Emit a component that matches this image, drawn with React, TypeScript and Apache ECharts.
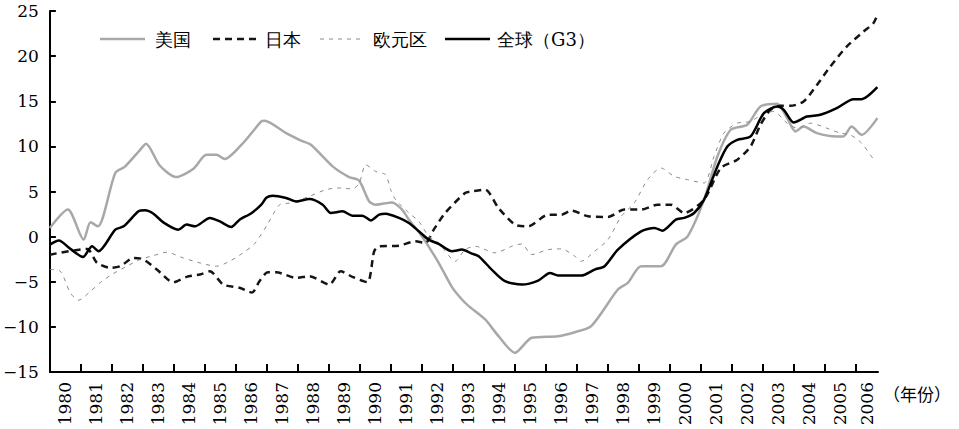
import React, { useEffect, useRef } from "react";
import * as echarts from "echarts";

const seriesNames = ["美国", "日本", "欧元区", "全球（G3）"];

const usT = [1980.0, 1980.58, 1981.09, 1981.31, 1981.55, 1982.11, 1982.43, 1982.91, 1983.1, 1983.55, 1984.07, 1984.62, 1985.05, 1985.37, 1985.64, 1986.23, 1986.82, 1986.92, 1987.62, 1988.1, 1988.42, 1989.12, 1989.65, 1989.97, 1990.3, 1990.51, 1991.04, 1991.36, 1991.58, 1992.0, 1992.54, 1992.97, 1993.29, 1993.51, 1994.04, 1994.47, 1995.0, 1995.54, 1996.39, 1996.93, 1997.46, 1998.32, 1998.64, 1999.07, 1999.71, 2000.19, 2000.57, 2001.1, 2001.53, 2001.96, 2002.49, 2002.92, 2003.46, 2003.78, 2004.05, 2004.31, 2004.74, 2005.38, 2005.59, 2005.86, 2006.18, 2006.69];
const usV = [0.96, 3.0, -0.33, 1.58, 1.14, 7.05, 7.78, 9.62, 10.29, 7.85, 6.6, 7.49, 9.07, 9.07, 8.6, 10.37, 12.76, 12.83, 11.47, 10.65, 10.18, 7.78, 6.6, 6.23, 3.9, 3.54, 3.79, 3.0, 1.88, 0.03, -2.9, -5.6, -6.97, -7.7, -9.18, -11.03, -12.87, -11.2, -11.03, -10.59, -9.92, -5.86, -5.12, -3.28, -3.28, -0.88, 0.03, 4.1, 8.88, 11.84, 12.39, 14.42, 14.72, 13.13, 11.65, 12.2, 11.47, 11.1, 11.1, 12.2, 11.28, 13.13];

const jpT = [1980.0, 1981.2, 1981.52, 1981.95, 1982.27, 1982.7, 1983.02, 1983.45, 1983.98, 1984.41, 1984.84, 1985.16, 1985.59, 1986.12, 1986.52, 1986.76, 1987.03, 1987.3, 1987.94, 1988.37, 1989.01, 1989.38, 1989.76, 1990.24, 1990.46, 1990.62, 1991.26, 1991.79, 1992.11, 1992.38, 1992.75, 1993.39, 1993.61, 1994.04, 1994.47, 1995.0, 1995.43, 1996.07, 1996.5, 1996.82, 1997.36, 1998.0, 1998.53, 1999.07, 1999.6, 2000.03, 2000.46, 2001.1, 2001.64, 2002.17, 2002.6, 2002.92, 2003.24, 2003.56, 2003.88, 2004.31, 2004.74, 2005.17, 2005.7, 2006.24, 2006.56, 2006.71];
const jpV = [-2.0, -1.36, -2.9, -3.46, -3.28, -2.36, -2.54, -3.65, -5.05, -4.46, -4.2, -3.84, -5.31, -5.67, -6.2, -4.94, -3.95, -3.95, -4.57, -4.39, -5.31, -3.84, -4.46, -5.05, -1.62, -1.07, -1.0, -0.52, -0.7, 0.77, 2.62, 4.83, 5.01, 5.2, 3.17, 1.33, 1.14, 2.43, 2.43, 2.88, 2.25, 2.18, 3.0, 3.0, 3.54, 3.54, 2.62, 4.1, 7.6, 8.52, 9.99, 12.39, 14.05, 14.49, 14.49, 14.97, 16.81, 18.84, 21.05, 22.71, 23.64, 24.75];

const euT = [1980.0, 1980.34, 1980.66, 1980.93, 1981.31, 1981.68, 1982.05, 1982.48, 1982.91, 1983.34, 1983.77, 1984.3, 1984.84, 1985.37, 1985.8, 1986.23, 1986.6, 1986.98, 1987.41, 1987.73, 1988.37, 1988.9, 1989.33, 1989.76, 1989.98, 1990.19, 1990.51, 1990.83, 1990.99, 1991.15, 1991.58, 1991.9, 1992.22, 1992.54, 1993.08, 1993.39, 1993.72, 1994.36, 1994.9, 1995.22, 1995.54, 1996.07, 1996.5, 1996.93, 1997.14, 1997.57, 1998.0, 1998.43, 1998.85, 1999.28, 1999.71, 2000.14, 2000.57, 2001.1, 2001.42, 2001.74, 2002.17, 2002.6, 2003.03, 2003.35, 2003.78, 2004.1, 2004.53, 2005.06, 2005.49, 2005.81, 2006.18, 2006.61];
const euV = [-3.65, -3.84, -6.23, -7.05, -6.05, -4.94, -4.09, -3.28, -2.54, -2.1, -1.73, -2.36, -2.91, -3.28, -2.73, -1.8, -0.8, 1.14, 3.54, 3.72, 4.46, 5.2, 5.39, 5.28, 5.94, 7.96, 7.22, 6.86, 5.2, 4.1, 2.62, 1.69, 0.03, -0.7, -2.73, -1.44, -1.07, -1.8, -1.07, -0.81, -1.99, -1.44, -1.36, -2.17, -2.73, -1.62, -0.33, 2.25, 3.73, 6.31, 7.6, 6.67, 6.31, 5.94, 8.88, 11.47, 12.57, 12.76, 13.68, 13.86, 12.57, 12.02, 12.57, 12.02, 11.47, 11.28, 10.37, 8.33];

const glT = [1980.0, 1980.29, 1980.66, 1981.07, 1981.36, 1981.57, 1982.11, 1982.38, 1982.86, 1983.07, 1983.34, 1983.66, 1984.14, 1984.41, 1984.68, 1985.16, 1985.48, 1985.85, 1986.12, 1986.5, 1986.82, 1986.98, 1987.19, 1987.62, 1987.94, 1988.37, 1988.8, 1989.06, 1989.44, 1989.76, 1990.08, 1990.35, 1990.62, 1990.83, 1991.26, 1991.58, 1991.9, 1992.22, 1992.54, 1992.97, 1993.29, 1993.61, 1993.83, 1994.25, 1994.68, 1995.22, 1995.75, 1996.13, 1996.39, 1997.14, 1997.57, 1997.89, 1998.32, 1999.07, 1999.5, 1999.76, 2000.19, 2000.46, 2000.78, 2001.1, 2001.53, 2001.85, 2002.17, 2002.6, 2003.03, 2003.46, 2003.67, 2003.99, 2004.42, 2004.85, 2005.38, 2005.92, 2006.18, 2006.69];
const glV = [-0.88, -0.44, -1.36, -2.25, -1.07, -1.62, 0.77, 1.14, 2.8, 2.91, 2.54, 1.58, 0.77, 1.33, 1.14, 2.07, 1.69, 1.07, 1.88, 2.6, 3.54, 4.3, 4.54, 4.28, 3.9, 4.17, 3.54, 2.62, 2.8, 2.32, 2.32, 1.8, 2.43, 2.54, 2.07, 1.51, 0.59, -0.33, -0.81, -1.62, -1.44, -1.88, -2.17, -3.65, -4.94, -5.31, -4.87, -4.02, -4.31, -4.31, -3.65, -3.28, -1.44, 0.59, 0.96, 0.66, 1.88, 2.07, 2.62, 4.1, 7.78, 9.99, 10.73, 11.1, 13.68, 14.42, 14.05, 12.65, 13.31, 13.5, 14.24, 15.23, 15.23, 16.56];

const yearTicks = [1981, 1982, 1983, 1984, 1985, 1986, 1987, 1988, 1989, 1990, 1991, 1992, 1993, 1994, 1995, 1996, 1997, 1998, 1999, 2000, 2001, 2002, 2003, 2004, 2005, 2006];
const yearLabelPos = [1980.5, 1981.5, 1982.5, 1983.5, 1984.5, 1985.5, 1986.5, 1987.5, 1988.5, 1989.5, 1990.5, 1991.5, 1992.5, 1993.5, 1994.5, 1995.5, 1996.5, 1997.5, 1998.5, 1999.5, 2000.5, 2001.5, 2002.5, 2003.5, 2004.5, 2005.5, 2006.35];
const xUnit = "（年份）";

const zip = (t: number[], v: number[]) => t.map((x, i) => [x, v[i]]);

const NUM_FONT = "DejaVu Serif";

const styles = [
  { color: "#a8a8a8", width: 2.5, type: "solid" as any, dash: null as any },
  { color: "#151515", width: 2.5, type: [7, 5] as any, dash: [7, 5] },
  { color: "#8a8a8a", width: 1, type: [4, 5] as any, dash: [4, 5] },
  { color: "#000000", width: 2.5, type: "solid" as any, dash: null as any },
];
const legendLineX = [100, 213, 320, 445];
const legendTextX = [155, 265, 373, 497];

export default function App() {
  const ref = useRef<HTMLDivElement>(null);
  useEffect(() => {
    if (!ref.current) return;
    const chart = echarts.init(ref.current, null, { renderer: "svg" });
    const datas = [zip(usT, usV), zip(jpT, jpV), zip(euT, euV), zip(glT, glV)];
    const legendGraphics: any[] = [];
    seriesNames.forEach((name, i) => {
      const st: any = { stroke: styles[i].color, lineWidth: styles[i].width };
      if (styles[i].dash) st.lineDash = styles[i].dash;
      legendGraphics.push({
        type: "line",
        shape: { x1: legendLineX[i], y1: 39, x2: legendLineX[i] + 45, y2: 39 },
        style: st,
      });
      legendGraphics.push({
        type: "text",
        x: legendTextX[i],
        y: 39,
        style: { text: name, fontSize: 18, fontFamily: NUM_FONT, fill: "#000", verticalAlign: "middle" },
      });
    });
    chart.setOption({
      animation: false,
      backgroundColor: "#ffffff",
      grid: { left: 46, right: 81, top: 11, bottom: 57 },
      xAxis: {
        type: "value",
        min: 1980,
        max: 2006.71,
        splitLine: { show: false },
        axisLine: { onZero: false, lineStyle: { color: "#000", width: 2 } },
        axisTick: { inside: true, length: 8, lineStyle: { color: "#000", width: 2 }, customValues: yearTicks },
        axisLabel: {
          customValues: yearLabelPos,
          rotate: 90,
          margin: 10,
          fontSize: 17,
          color: "#000",
          fontFamily: NUM_FONT,
          formatter: (v: number) => String(Math.floor(v)),
        },
      },
      yAxis: {
        type: "value",
        min: -15,
        max: 25,
        interval: 5,
        splitLine: { show: false },
        axisLine: { show: true, onZero: false, lineStyle: { color: "#000", width: 2 } },
        axisTick: { show: true, inside: true, length: 6, lineStyle: { color: "#000", width: 2 } },
        axisLabel: {
          margin: 11,
          fontSize: 17,
          color: "#000",
          fontFamily: NUM_FONT,
          formatter: (v: number) => (v < 0 ? "\u2212" + Math.abs(v) : String(v)),
        },
      },
      graphic: [
        ...legendGraphics,
        {
          type: "text",
          x: 883,
          y: 393,
          style: { text: xUnit, fontSize: 17, fill: "#000", fontFamily: "Noto Sans CJK SC", verticalAlign: "middle" },
        },
      ],
      series: seriesNames.map((name, i) => ({
        name,
        type: "line",
        data: datas[i],
        symbol: "none",
        smooth: 0.25,
        lineStyle: { color: styles[i].color, width: styles[i].width, type: styles[i].type },
        itemStyle: { color: styles[i].color },
        z: i === 3 ? 5 : 2 + i,
      })),
    });
    return () => chart.dispose();
  }, []);
  return <div ref={ref} style={{ position: "absolute", left: 0, top: 0, width: 959, height: 429, background: "#fff" }} />;
}
